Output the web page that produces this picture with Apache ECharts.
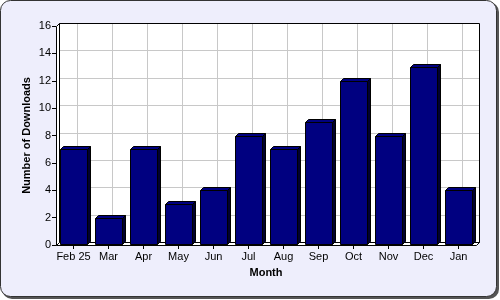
<!DOCTYPE html>
<html><head><meta charset="utf-8">
<script src="https://cdn.jsdelivr.net/npm/echarts@6/dist/echarts.min.js"></script>
<style>html,body{margin:0;padding:0;background:#fff}#c{width:500px;height:300px}</style>
</head><body><div id="c"></div>
<script>
var months = ['Feb 25','Mar','Apr','May','Jun','Jul','Aug','Sep','Oct','Nov','Dec','Jan'];
var downloads = [7,2,7,3,4,8,7,9,12,8,13,4];
var yTicks = [0,2,4,6,8,10,12,14,16];
var yTitle = 'Number of Downloads';
var xTitle = 'Month';

var D = 3;
var FONT = 'Liberation Sans, Arial, sans-serif';
var chart = echarts.init(document.getElementById('c'), null, {renderer:'canvas'});

function frameItem(params, api) {
  var cs = params.coordSys;
  var x = cs.x, y = cs.y, w = cs.width, h = cs.height;
  var kids = [];
  kids.push({type:'rect', shape:{x:x+D, y:y-D, width:w, height:h}, style:{fill:'#fff', stroke:null}});
  yTicks.forEach(function(v){
    var py = Math.round(api.coord([0, v])[1] - D) + 0.5;
    kids.push({type:'line', shape:{x1:x+D, y1:py, x2:x+w+D, y2:py}, style:{stroke:'#c8c8c8', lineWidth:1}});
  });
  months.forEach(function(m, i){
    var px = Math.round(api.coord([i, 0])[0] + D) + 0.5;
    kids.push({type:'line', shape:{x1:px, y1:y-D, x2:px, y2:y+h-D}, style:{stroke:'#c8c8c8', lineWidth:1}});
  });
  kids.push({type:'rect', shape:{x:x+D+0.5, y:y-D+0.5, width:w, height:h}, style:{fill:null, stroke:'#000', lineWidth:1}});
  kids.push({type:'polygon', shape:{points:[[x+0.5,y+h+0.5],[x+0.5,y+0.5],[x+D+0.5,y-D+0.5],[x+D+0.5,y+h-D+0.5]]}, style:{fill:'#fff', stroke:'#000', lineWidth:1}});
  kids.push({type:'polygon', shape:{points:[[x+0.5,y+h+0.5],[x+w+0.5,y+h+0.5],[x+w+D+0.5,y+h-D+0.5],[x+D+0.5,y+h-D+0.5]]}, style:{fill:'#fff', stroke:'#000', lineWidth:1}});
  // y axis title
  kids.push({type:'text', x: x - 29, y: y + h/2, rotation: Math.PI/2,
    style:{text:yTitle, fontFamily:FONT, fontSize:11, fontWeight:'bold', fill:'#000', align:'center', verticalAlign:'middle'}});
  return {type:'group', children:kids};
}

function barItem(params, api) {
  var i = api.value(0), v = api.value(1);
  var top = api.coord([i, v]);
  var base = api.coord([i, 0]);
  var bw = api.size([1, 0])[0] * 0.76;
  var x0 = Math.round(top[0] - bw/2) + 0.5, x1 = Math.round(top[0] + bw/2) + 0.5;
  var yt = Math.round(top[1]) + 0.5, yb = Math.round(base[1]) - 0.5;
  return {type:'group', children:[
    {type:'polygon', shape:{points:[[x1,yb],[x1,yt],[x1+D,yt-D],[x1+D,yb-D]]}, style:{fill:'#000030', stroke:'#000', lineWidth:1}},
    {type:'polygon', shape:{points:[[x0,yt],[x1,yt],[x1+D,yt-D],[x0+D,yt-D]]}, style:{fill:'#000080', stroke:'#000', lineWidth:1}},
    {type:'rect', shape:{x:x0, y:yt, width:x1-x0, height:yb-yt}, style:{fill:'#000080', stroke:'#000', lineWidth:1}}
  ]};
}

chart.setOption({
  animation:false,
  graphic:[
    {type:'rect', z:-10, shape:{x:2, y:2, width:497, height:297, r:10}, style:{fill:'#555'}},
    {type:'rect', z:-9, shape:{x:0.5, y:0.5, width:496, height:296, r:10}, style:{fill:'#eeeefc', stroke:'#333', lineWidth:1}}
  ],
  grid:{left:56, right:24, top:26, bottom:55},
  xAxis:{type:'category', data:months, name:xTitle, nameLocation:'middle', nameGap:22,
    nameTextStyle:{fontFamily:FONT, fontSize:11, fontWeight:'bold', color:'#000'},
    axisLine:{show:false}, axisTick:{show:true, alignWithLabel:true, length:4, lineStyle:{color:'#000'}},
    axisLabel:{fontFamily:FONT, fontSize:11, color:'#000', margin:6, interval:0},
    splitLine:{show:false}},
  yAxis:{type:'value', min:0, max:16, interval:2,
    axisLine:{show:false}, axisTick:{show:true, length:4, lineStyle:{color:'#000'}},
    axisLabel:{fontFamily:FONT, fontSize:11, color:'#000', margin:5, formatter:function(v){return yTicks.indexOf(v)>=0?String(v):'';}},
    splitLine:{show:false}},
  series:[
    {type:'custom', renderItem:frameItem, data:[[0,0]], z:1, silent:true, clip:false},
    {type:'custom', renderItem:barItem, data:downloads.map(function(v,i){return [i,v];}), encode:{x:0,y:1}, z:2, clip:false}
  ]
});
</script></body></html>
